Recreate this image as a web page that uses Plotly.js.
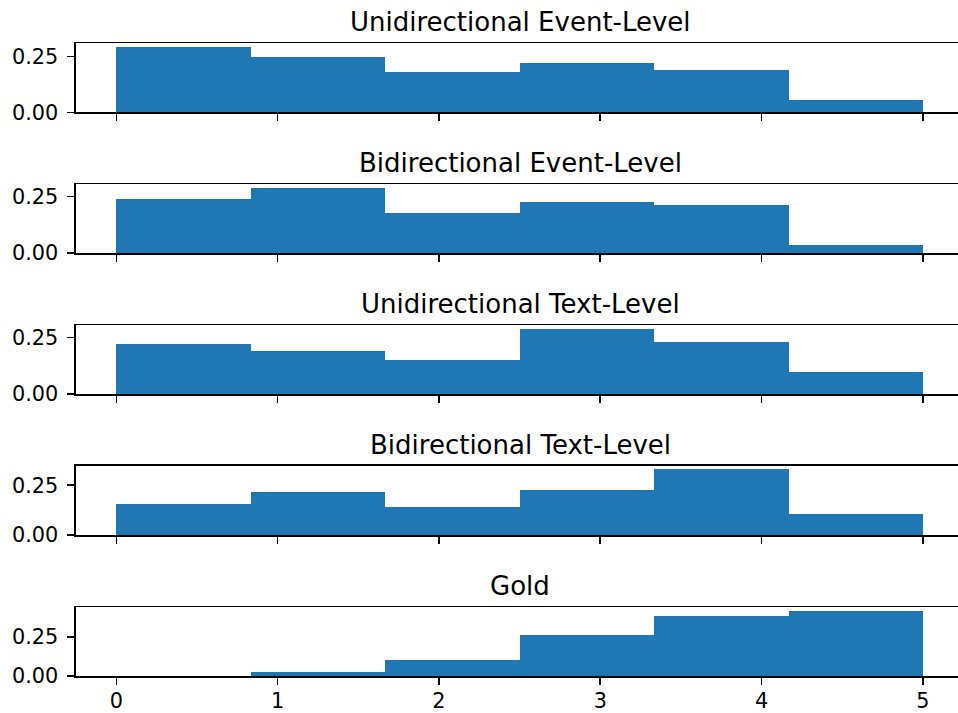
<!DOCTYPE html>
<html>
<head>
<meta charset="utf-8">
<script src="https://cdn.plot.ly/plotly-3.0.1.min.js"></script>
<style>html,body{margin:0;padding:0;overflow:hidden;background:#fff;}</style>
</head>
<body>
<div id="chart" style="width:958px;height:713px;"></div>
<script>
// Histogram bins: 6 equal bins over [0, 5]
const binStart = 0;
const binEnd = 5;
const binCount = 6;

const panelTitles = [
  "Unidirectional Event-Level",
  "Bidirectional Event-Level",
  "Unidirectional Text-Level",
  "Bidirectional Text-Level",
  "Gold"
];

// Density per bin
const uniEvent = [0.295, 0.250, 0.181, 0.222, 0.190, 0.055];
const biEvent  = [0.241, 0.290, 0.179, 0.228, 0.214, 0.036];
const uniText  = [0.223, 0.192, 0.152, 0.290, 0.232, 0.098];
const biText   = [0.157, 0.218, 0.142, 0.228, 0.330, 0.107];
const gold     = [0.000, 0.024, 0.103, 0.263, 0.385, 0.419];

const yTickVals = [0, 0.25];
const xTickVals = [0, 1, 2, 3, 4, 5];

const series = [uniEvent, biEvent, uniText, biText, gold];

const W = 958, H = 713;
const binWidth = (binEnd - binStart) / binCount;
const centers = [];
for (let i = 0; i < binCount; i++) centers.push(binStart + binWidth * (i + 0.5));

// pixel layout of panels (top, bottom)
const panelPx = [[43.3, 112.3], [184.3, 253], [325.3, 394], [466, 535], [607.3, 676]];
const plotLeft = 76;
const pxPerUnit = 161.32;
const xRange = [-0.25, -0.25 + (W - plotLeft) / pxPerUnit];

const font = "DejaVu Sans, sans-serif";
const tickFontSize = 20.8;
const titleFontSize = 26;
const traces = [];
const layout = {
  width: W, height: H,
  margin: {l: plotLeft, r: 0, t: 0, b: 0},
  paper_bgcolor: "#fff", plot_bgcolor: "#fff",
  showlegend: false,
  bargap: 0,
  font: {family: font, color: "#000"},
  annotations: []
};

series.forEach((vals, i) => {
  const n = i + 1;
  const xa = n === 1 ? "x" : "x" + n;
  const ya = n === 1 ? "y" : "y" + n;
  traces.push({
    type: "bar",
    x: centers,
    y: vals,
    width: centers.map(() => binWidth),
    marker: {color: "#1f77b4", line: {width: 0}},
    xaxis: xa, yaxis: ya,
    hoverinfo: "skip"
  });
  const [top, bot] = panelPx[i];
  const dom = [(H - bot) / H, (H - top) / H];
  const ymax = Math.max(...vals) * 1.05;
  layout[n === 1 ? "xaxis" : "xaxis" + n] = {
    anchor: ya,
    domain: [0, 1],
    range: xRange,
    tickvals: xTickVals,
    ticktext: xTickVals.map(v => String(v)),
    showticklabels: n === series.length,
    ticks: "outside", ticklen: 7, tickwidth: 1.6, tickcolor: "#000",
    ticklabelstandoff: -2,
    showline: true, linecolor: "#000", linewidth: 1.6, mirror: true,
    showgrid: false, zeroline: false,
    tickfont: {family: font, size: tickFontSize, color: "#000"},
    fixedrange: true
  };
  layout[n === 1 ? "yaxis" : "yaxis" + n] = {
    anchor: xa,
    domain: dom,
    range: [0, ymax],
    tickvals: yTickVals,
    ticktext: yTickVals.map(v => v.toFixed(2)),
    ticks: "outside", ticklen: 7, tickwidth: 1.6, tickcolor: "#000",
    ticklabelstandoff: 5,
    showline: true, linecolor: "#000", linewidth: 1.6, mirror: false,
    showgrid: false, zeroline: false,
    tickfont: {family: font, size: tickFontSize, color: "#000"},
    fixedrange: true
  };
  layout.annotations.push({
    text: panelTitles[i],
    xref: "paper", yref: "paper",
    x: ((plotLeft + 964) / 2 - plotLeft) / (W - plotLeft),
    y: dom[1],
    xanchor: "center", yanchor: "bottom",
    yshift: 4,
    showarrow: false,
    font: {family: font, size: titleFontSize, color: "#000"}
  });
});

Plotly.newPlot("chart", traces, layout, {displayModeBar: false, staticPlot: true});
</script>
</body>
</html>
